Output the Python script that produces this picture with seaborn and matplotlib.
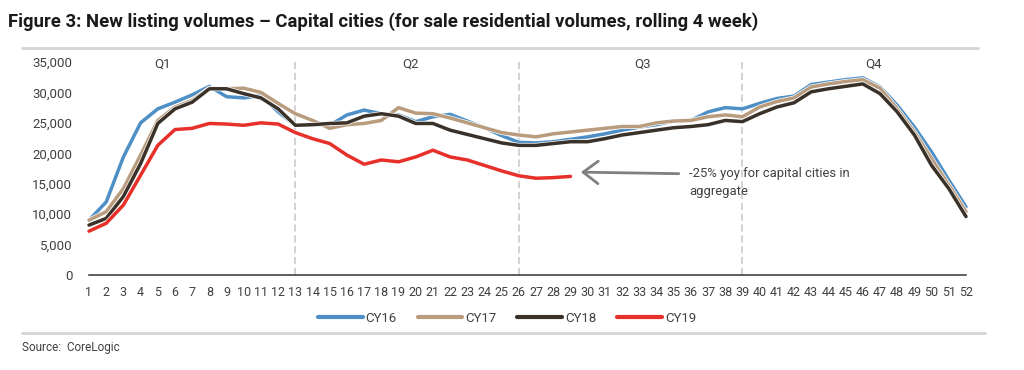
import matplotlib
matplotlib.use("Agg")
import matplotlib.pyplot as plt
import matplotlib.patheffects as pe
from matplotlib.lines import Line2D
import seaborn as sns
import pandas as pd

weeks = list(range(1, 53))
cy16 = [9000, 12000, 19400, 25000, 27300, 28400, 29600, 31000, 29300, 29100, 29500, 26800, 24600,
        24700, 24600, 26300, 27100, 26500, 26300, 25200, 26000, 26400, 25300, 24200, 22900, 21800,
        21700, 21900, 22300, 22700, 23200, 23800, 24300, 24700, 25300, 25400, 26800, 27500, 27300,
        28200, 29000, 29400, 31300, 31700, 32100, 32400, 30900, 27900, 24300, 20200, 15600, 11200]
cy17 = [9000, 10400, 14200, 19700, 25400, 27600, 28700, 30700, 30600, 30700, 30000, 28200, 26500,
        25400, 24100, 24700, 24900, 25400, 27500, 26600, 26500, 25800, 25000, 24200, 23400, 23000,
        22700, 23200, 23500, 23800, 24100, 24400, 24400, 25000, 25300, 25400, 26000, 26300, 26000,
        27600, 28500, 29100, 30900, 31400, 31800, 32100, 30700, 27300, 23500, 19100, 14800, 10400]
cy18 = [8200, 9300, 12900, 18300, 24900, 27300, 28400, 30600, 30600, 29800, 29100, 27300, 24600,
        24700, 24900, 25000, 26100, 26500, 26100, 24900, 24900, 23800, 23100, 22400, 21700, 21300,
        21300, 21600, 21900, 21900, 22400, 23000, 23400, 23800, 24200, 24400, 24700, 25400, 25200,
        26500, 27600, 28300, 30100, 30600, 31000, 31400, 29800, 26800, 23000, 18000, 14200, 9600]
cy19 = [7200, 8500, 11500, 16400, 21300, 23900, 24100, 24900, 24800, 24600, 25000, 24800, 23400,
        22400, 21600, 19700, 18200, 18900, 18600, 19400, 20500, 19400, 18900, 18000, 17100, 16300,
        15900, 16000, 16200]
series_names = ["CY16", "CY17", "CY18", "CY19"]
quarter_labels = ["Q1", "Q2", "Q3", "Q4"]
quarter_label_pos = [5.3, 19.7, 33.2, 46.6]
quarter_bounds = [13, 26, 39]
y_ticks = [0, 5000, 10000, 15000, 20000, 25000, 30000, 35000]

colors = {"CY16": "#4e8fc6", "CY17": "#b99b7d", "CY18": "#3a3129", "CY19": "#e8302a"}

rows = []
for name, vals in zip(series_names, [cy16, cy17, cy18, cy19]):
    for w, v in zip(weeks, vals):
        rows.append({"week": w, "value": v, "series": name})
df = pd.DataFrame(rows)

sns.set_theme(style="white")
plt.rcParams["font.family"] = ["Roboto", "DejaVu Sans"]

fig = plt.figure(figsize=(10.24, 3.7), dpi=100)
ax = fig.add_axes([89 / 1024, 1 - 275 / 370, (966 - 89) / 1024, 213 / 370])

sns.lineplot(data=df, x="week", y="value", hue="series", palette=colors,
             hue_order=series_names, linewidth=2.5, ax=ax, legend=False, sort=False)
for ln in ax.lines:
    ln.set_clip_on(False)
    ln.set_path_effects([pe.Stroke(linewidth=3.5, foreground="white"), pe.Normal()])

for qb in quarter_bounds:
    ax.axvline(qb, color="#cfcfcf", lw=1.3, ls=(0, (4, 2)), zorder=0)

ax.set_xlim(1, 52)
ax.set_ylim(0, 35000)
ax.set_xticks(weeks)
ax.set_xticklabels([str(w) for w in weeks], fontsize=9, color="#404040")
ax.set_yticks(y_ticks)
ax.set_yticklabels([f"{t:,}" for t in y_ticks], fontsize=9.5, color="#404040")
ax.tick_params(axis="x", length=0, pad=8)
ax.tick_params(axis="y", length=0, pad=12)
ax.set_xlabel("")
ax.set_ylabel("")
for s in ["top", "right", "left"]:
    ax.spines[s].set_visible(False)
ax.spines["bottom"].set_color("#333333")
ax.spines["bottom"].set_linewidth(1.1)

for lab, xp in zip(quarter_labels, quarter_label_pos):
    ax.text(xp, 34700, lab, ha="center", va="center", fontsize=9.5, color="#404040")

ax.annotate("", xy=(29.6, 16900), xytext=(35.3, 16650),
            arrowprops=dict(arrowstyle="->,head_length=0.6,head_width=0.45",
                            color="#808080", lw=2, mutation_scale=18, shrinkA=0, shrinkB=0))
ax.text(35.9, 15200, "-25% yoy for capital cities in\naggregate", ha="left", va="center",
        fontsize=9.4, color="#404040", linespacing=1.45)

handles = [Line2D([0], [0], color=colors[n], lw=3) for n in series_names]
fig.legend(handles, series_names, loc="center", bbox_to_anchor=(0.495, 1 - 318 / 370), ncol=4,
           frameon=False, fontsize=9.5, handlelength=3.4, handletextpad=0.2, columnspacing=1.6,
           labelcolor="#404040")

fig.text(8 / 1024, 1 - 22 / 370,
         "Figure 3: New listing volumes \u2013 Capital cities (for sale residential volumes, rolling 4 week)",
         fontsize=13.3, fontweight="bold", color="#1a1a1a", ha="left", va="center")
fig.add_artist(Line2D([22 / 1024, 978 / 1024], [1 - 48 / 370] * 2, color="#d4d4d4", lw=2))
fig.add_artist(Line2D([22 / 1024, 985 / 1024], [1 - 333 / 370] * 2, color="#d4d4d4", lw=2))
fig.text(22 / 1024, 1 - 347 / 370, "Source:  CoreLogic", fontsize=8.5, color="#404040",
         ha="left", va="center")

fig.savefig("out.png", dpi=100, facecolor="white")
